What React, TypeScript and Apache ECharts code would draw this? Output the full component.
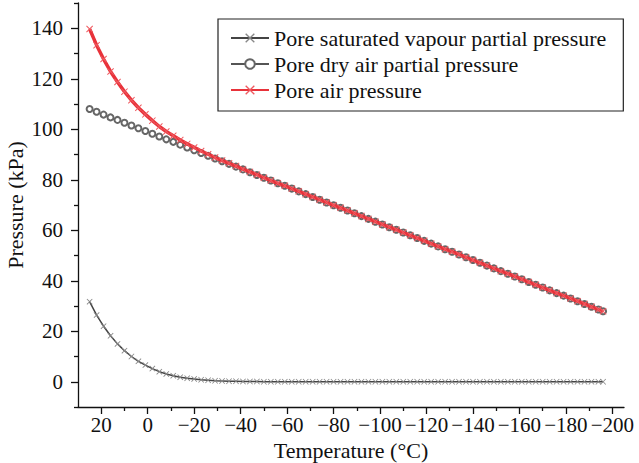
import { useEffect, useRef } from "react";
import * as echarts from "echarts";

// temperature (°C)
const temps = [
  25, 22, 19, 16, 13, 10, 7, 4, 1, -2, -5, -8, -11, -14, -17, -20, -23, -26, -29, -32, -35, -38, -41, -44, -47,
  -50, -53, -56, -59, -62, -65, -68, -71, -74, -77, -80, -83, -86, -89, -92, -95, -98, -101, -104, -107, -110,
  -113, -116, -119, -122, -125, -128, -131, -134, -137, -140, -143, -146, -149, -152, -155, -158, -161, -164,
  -167, -170, -173, -176, -179, -182, -185, -188, -191, -194, -196
];

// pressures in kPa
const vapour = [
  31.7, 26.4, 22.0, 18.2, 15.0, 12.3, 10.0, 8.1, 6.6, 5.2, 4.0, 3.1, 2.4, 1.8, 1.4, 1.1, 0.8, 0.6, 0.4, 0.3, 0.2,
  0.2, 0.1, 0.1, 0.1, 0, 0, 0, 0, 0, 0, 0, 0, 0, 0, 0, 0, 0, 0, 0, 0, 0, 0, 0, 0, 0, 0, 0, 0, 0, 0, 0, 0, 0, 0, 0,
  0, 0, 0, 0, 0, 0, 0, 0, 0, 0, 0, 0, 0, 0, 0, 0, 0, 0, 0
];

const dryAir = [
  108.0, 106.9, 105.8, 104.7, 103.7, 102.6, 101.5, 100.4, 99.3, 98.2, 97.1, 96.0, 95.0, 93.9, 92.8, 91.7, 90.6,
  89.5, 88.4, 87.3, 86.3, 85.2, 84.1, 83.0, 81.9, 80.8, 79.7, 78.6, 77.6, 76.5, 75.4, 74.3, 73.2, 72.1, 71.0, 69.9,
  68.9, 67.8, 66.7, 65.6, 64.5, 63.4, 62.3, 61.2, 60.2, 59.1, 58.0, 56.9, 55.8, 54.7, 53.6, 52.5, 51.5, 50.4, 49.3,
  48.2, 47.1, 46.0, 44.9, 43.8, 42.8, 41.7, 40.6, 39.5, 38.4, 37.3, 36.2, 35.1, 34.1, 33.0, 31.9, 30.8, 29.7, 28.6,
  27.9
];

const airPressure = [
  139.7, 133.3, 127.8, 122.9, 118.7, 114.9, 111.5, 108.5, 105.9, 103.4, 101.1, 99.1, 97.4, 95.7, 94.2, 92.8, 91.4,
  90.1, 88.8, 87.6, 86.5, 85.4, 84.2, 83.1, 82.0, 80.8, 79.7, 78.6, 77.6, 76.5, 75.4, 74.3, 73.2, 72.1, 71.0, 69.9,
  68.9, 67.8, 66.7, 65.6, 64.5, 63.4, 62.3, 61.2, 60.2, 59.1, 58.0, 56.9, 55.8, 54.7, 53.6, 52.5, 51.5, 50.4, 49.3,
  48.2, 47.1, 46.0, 44.9, 43.8, 42.8, 41.7, 40.6, 39.5, 38.4, 37.3, 36.2, 35.1, 34.1, 33.0, 31.9, 30.8, 29.7, 28.6,
  27.9
];

const xTicks = [20, 0, -20, -40, -60, -80, -100, -120, -140, -160, -180, -200];
const xMinorTicks = [10, -10, -30, -50, -70, -90, -110, -130, -150, -170, -190];
const yTicks = [0, 20, 40, 60, 80, 100, 120, 140];
const yMinorTicks = [-10, 10, 30, 50, 70, 90, 110, 130, 150];

const names = [
  "Pore saturated vapour partial pressure",
  "Pore dry air partial pressure",
  "Pore air pressure"
];

const FONT = "Liberation Serif";
const CROSS = "path://M0,1L1,0L5,4L9,0L10,1L6,5L10,9L9,10L5,6L1,10L0,9L4,5Z";

const minus = (v: number) => String(v).replace("-", "\u2212");
const pairs = (ys: number[]) => temps.map((t, i) => [t, ys[i]]);

export default function App() {
  const ref = useRef<HTMLDivElement | null>(null);

  useEffect(() => {
    document.body.style.margin = "0";
    if (!ref.current) {
      return;
    }
    const chart = echarts.init(ref.current, undefined, { renderer: "svg" });

    const xBase = { type: "value" as const, min: -205, max: 30, inverse: true, gridIndex: 0, position: "bottom" as const };
    const yBase = { type: "value" as const, min: -10, max: 150, gridIndex: 0, position: "left" as const };
    const tickLine = { color: "#111", width: 1.3 };

    chart.setOption({
      animation: false,
      backgroundColor: "#fff",
      textStyle: { fontFamily: FONT, color: "#111" },
      grid: { left: 78, right: 15, top: 3, bottom: 56, outerBoundsMode: "none", containLabel: false },
      legend: {
        orient: "vertical",
        left: 218,
        top: 19,
        padding: [8, 17, 10, 12],
        itemWidth: 38,
        itemHeight: 12,
        itemGap: 4,
        borderColor: "#222",
        borderWidth: 1.2,
        borderRadius: 0,
        textStyle: { fontFamily: FONT, fontSize: 22, color: "#111" },
        data: names
      },
      xAxis: [
        {
          ...xBase,
          name: "Temperature (°C)",
          nameLocation: "middle",
          nameGap: 32,
          nameMoveOverlap: false,
          nameTextStyle: { fontFamily: FONT, fontSize: 22, color: "#111" },
          splitLine: { show: false },
          axisLine: { show: true, onZero: false, lineStyle: tickLine },
          axisTick: { show: true, length: 7, lineStyle: tickLine, customValues: xTicks },
          axisLabel: {
            fontFamily: FONT,
            fontSize: 21,
            color: "#111",
            margin: 7,
            customValues: xTicks,
            formatter: minus
          }
        },
        {
          ...xBase,
          splitLine: { show: false },
          axisLine: { show: false, onZero: false },
          axisLabel: { show: false },
          axisTick: { show: true, length: 4, lineStyle: tickLine, customValues: xMinorTicks }
        }
      ],
      yAxis: [
        {
          ...yBase,
          name: "Pressure (kPa)",
          nameLocation: "middle",
          nameGap: 52,
          nameMoveOverlap: false,
          nameTextStyle: { fontFamily: FONT, fontSize: 22, color: "#111" },
          splitLine: { show: false },
          axisLine: { show: true, onZero: false, lineStyle: tickLine },
          axisTick: { show: true, length: 7, lineStyle: tickLine, customValues: yTicks },
          axisLabel: {
            fontFamily: FONT,
            fontSize: 21,
            color: "#111",
            margin: 15,
            customValues: yTicks,
            formatter: minus
          }
        },
        {
          ...yBase,
          splitLine: { show: false },
          axisLine: { show: false, onZero: false },
          axisLabel: { show: false },
          axisTick: { show: true, length: 4, lineStyle: tickLine, customValues: yMinorTicks }
        }
      ],
      series: [
        {
          name: names[1],
          type: "line",
          data: pairs(dryAir),
          z: 2,
          symbol: "emptyCircle",
          symbolSize: 6,
          showAllSymbol: true,
          lineStyle: { color: "#555", width: 1.2 },
          itemStyle: { color: "#666", borderColor: "#666", borderWidth: 1 }
        },
        {
          name: names[0],
          type: "line",
          data: pairs(vapour),
          z: 3,
          symbol: CROSS,
          symbolSize: 6,
          showAllSymbol: true,
          lineStyle: { color: "#444", width: 1.5 },
          itemStyle: { color: "#888" }
        },
        {
          name: names[2],
          type: "line",
          data: pairs(airPressure),
          z: 4,
          symbol: CROSS,
          symbolSize: 7,
          showAllSymbol: true,
          lineStyle: { color: "#e8323a", width: 3.5 },
          itemStyle: { color: "#ef5a60" }
        }
      ]
    });

    return () => {
      chart.dispose();
    };
  }, []);

  return <div ref={ref} style={{ width: 639, height: 463 }} />;
}
